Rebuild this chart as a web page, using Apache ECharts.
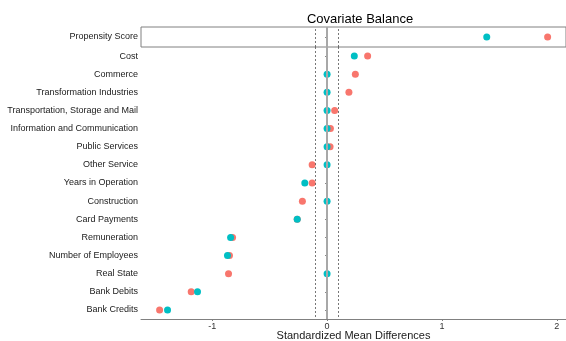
<!DOCTYPE html>
<html>
<head>
<meta charset="utf-8">
<script src="https://cdn.jsdelivr.net/npm/echarts@6/dist/echarts.min.js"></script>
<style>html,body{margin:0;padding:0;background:#fff}#c{width:566px;height:341px}</style>
</head>
<body>
<div id="c"></div>
<script>
const topCategories = ['Propensity Score'];
const topUnadjusted = [1.92];
const topAdjusted = [1.39];

const categories = ['Cost','Commerce','Transformation Industries','Transportation, Storage and Mail','Information and Communication','Public Services','Other Service','Years in Operation','Construction','Card Payments','Remuneration','Number of Employees','Real State','Bank Debits','Bank Credits'];
const unadjusted = [0.353,0.246,0.19,0.066,0.029,0.026,-0.13,-0.13,-0.215,-0.26,-0.823,-0.85,-0.858,-1.183,-1.458];
const adjusted = [0.237,0,0,0,0,0,0,-0.194,0,-0.26,-0.84,-0.867,0,-1.128,-1.389];

const xTicks = [-1, 0, 1, 2];
const refLines = [0, -0.1, 0.1];
const xMin = -1.62, xMax = 2.08;

const RED = '#F8766D', TEAL = '#00BFC4', GRAY = '#808080';
const FONT = "'Liberation Sans', Arial, sans-serif";

function marks() {
  return {
    silent: true,
    symbol: ['none', 'none'],
    label: { show: false },
    emphasis: { disabled: true },
    animation: false,
    data: refLines.map(v => ({
      xAxis: v,
      lineStyle: v === 0
        ? { color: '#a8a8a8', width: 2, type: 'solid' }
        : { color: '#555', width: 0.8, type: [2, 2] }
    }))
  };
}

const yLabel = { fontSize: 9, color: '#1a1a1a', fontFamily: FONT, margin: 3 };

const option = {
  animation: false,
  title: {
    text: 'Covariate Balance',
    left: 355, top: 8, textAlign: 'center',
    textStyle: { fontSize: 13, fontWeight: 'normal', color: '#000', fontFamily: FONT }
  },
  grid: [
    { left: 141, right: 0, top: 27, height: 20, show: true, borderColor: GRAY, borderWidth: 1, backgroundColor: 'transparent', outerBoundsMode: 'none', containLabel: false },
    { left: 141, right: 0, top: 47, bottom: 22, outerBoundsMode: 'none', containLabel: false }
  ],
  xAxis: [
    { gridIndex: 0, type: 'value', min: xMin, max: xMax, show: false, splitLine: { show: false } },
    {
      gridIndex: 1, type: 'value', min: xMin, max: xMax,
      splitLine: { show: false },
      axisLine: { show: true, lineStyle: { color: GRAY, width: 1 } },
      axisTick: { show: true, length: 2, lineStyle: { color: GRAY }, customValues: xTicks },
      axisLabel: { fontSize: 9, color: '#333', fontFamily: FONT, margin: 3, customValues: xTicks },
      name: 'Standardized Mean Differences',
      nameLocation: 'middle', nameGap: 11, nameMoveOverlap: false,
      nameTextStyle: { fontSize: 11, color: '#1a1a1a', fontFamily: FONT }
    }
  ],
  yAxis: [
    {
      gridIndex: 0, type: 'category', data: topCategories,
      axisLine: { show: false },
      axisTick: { show: true, length: 2, alignWithLabel: true, lineStyle: { color: GRAY } },
      axisLabel: yLabel, splitLine: { show: false }
    },
    {
      gridIndex: 1, type: 'category', data: categories, inverse: true,
      axisLine: { show: true, lineStyle: { color: GRAY, width: 1 } },
      axisTick: { show: true, length: 2, alignWithLabel: true, lineStyle: { color: GRAY } },
      axisLabel: yLabel, splitLine: { show: false }
    }
  ],
  series: [
    { type: 'scatter', xAxisIndex: 0, yAxisIndex: 0, data: [], z: 1, markLine: marks() },
    { type: 'scatter', xAxisIndex: 1, yAxisIndex: 1, data: [], z: 1, markLine: marks() },
    { name: 'Unadjusted', type: 'scatter', xAxisIndex: 0, yAxisIndex: 0, z: 3, symbolSize: 7,
      itemStyle: { color: RED, opacity: 1 }, data: topUnadjusted.map((v, i) => [v, topCategories[i]]) },
    { name: 'Adjusted', type: 'scatter', xAxisIndex: 0, yAxisIndex: 0, z: 4, symbolSize: 7,
      itemStyle: { color: TEAL, opacity: 1 }, data: topAdjusted.map((v, i) => [v, topCategories[i]]) },
    { name: 'Unadjusted', type: 'scatter', xAxisIndex: 1, yAxisIndex: 1, z: 3, symbolSize: 7,
      itemStyle: { color: RED, opacity: 1 }, data: unadjusted.map((v, i) => [v, categories[i]]) },
    { name: 'Adjusted', type: 'scatter', xAxisIndex: 1, yAxisIndex: 1, z: 4, symbolSize: 7,
      itemStyle: { color: TEAL, opacity: 1 }, data: adjusted.map((v, i) => [v, categories[i]]) }
  ]
};

const chart = echarts.init(document.getElementById('c'), null, { renderer: 'canvas' });
chart.setOption(option);
</script>
</body>
</html>
